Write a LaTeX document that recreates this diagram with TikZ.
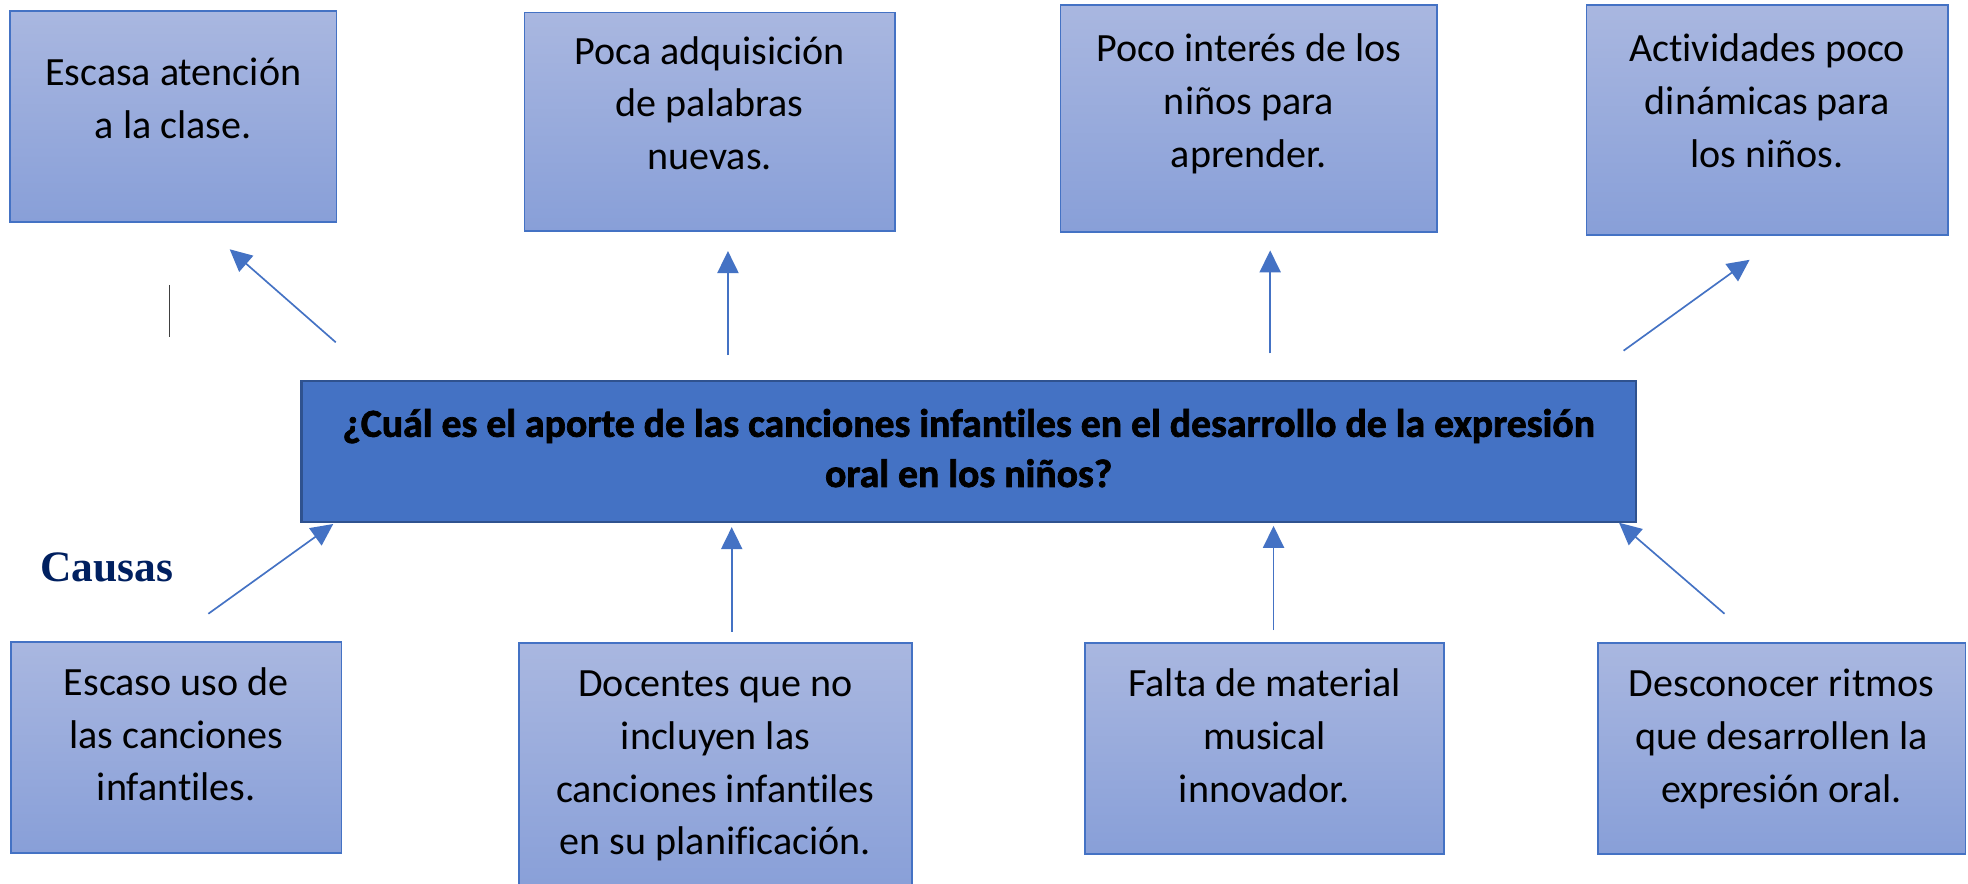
\documentclass[tikz,border=0pt]{standalone}
\usepackage{fontspec}
\setmainfont{Carlito}[Ligatures={NoCommon}]
\newfontfamily\titlefont{Carlito}[Ligatures={NoCommon}, BoldFeatures={FakeBold=1.8}]
\newfontfamily\causasfont{Liberation Serif}
\usetikzlibrary{arrows.meta}
\definecolor{accent}{HTML}{4472C4}
\definecolor{accentdark}{HTML}{2F528F}
\definecolor{boxtop}{HTML}{A9B7E0}
\definecolor{boxbot}{HTML}{889FD8}
\definecolor{navy}{HTML}{002060}
\definecolor{cursorgray}{HTML}{404040}
\newcommand\mylines[1]{\begin{tabular}[t]{@{}c@{}}#1\end{tabular}}
\begin{document}
\begin{tikzpicture}[x=0.025cm, y=-0.025cm,
  cbox/.style={draw=accent, line width=0.9pt, top color=boxtop, bottom color=boxbot, inner sep=0pt, outer sep=0pt},
  mainbox/.style={draw=accentdark, line width=1.4pt, fill=accent, inner sep=0pt, outer sep=0pt},
  btext/.style={anchor=base, inner sep=0pt, font=\fontsize{22.7}{29.9}\selectfont},
  ttext/.style={anchor=base, inner sep=0pt, font=\titlefont\bfseries\fontsize{22.5}{28.45}\selectfont},
  conn/.style={draw=accent, line width=0.95pt, -{Triangle[length=12.5pt, width=12pt]}}
]
\clip (0,0) rectangle (1568,704);
\fill[white] (0,0) rectangle (1568,704);

% effect boxes (top)
\node[cbox, minimum width=6.5cm,   minimum height=4.2cm]   (b1) at (138,93) {};
\node[cbox, minimum width=7.375cm, minimum height=4.35cm]  (b2) at (565.5,97) {};
\node[cbox, minimum width=7.5cm,   minimum height=4.525cm] (b3) at (995,94.5) {};
\node[cbox, minimum width=7.2cm,   minimum height=4.575cm] (b4) at (1408,95.5) {};

\node[btext] (t1) at (138,68.5)  {\mylines{Escasa atención\\a la clase.}};
\node[btext] (t2) at (565.5,51)  {\mylines{Poca adquisición\\de palabras\\nuevas.}};
\node[btext] (t3) at (995,49)    {\mylines{Poco interés de los\\niños para\\aprender.}};
\node[btext] (t4) at (1408,49)   {\mylines{Actividades poco\\dinámicas para\\los niños.}};

% central problem
\node[mainbox, minimum width=26.575cm, minimum height=2.8125cm] (m) at (772,359.75) {};
\node[ttext] (mt) at (771.75,348) {\mylines{¿Cuál es el aporte de las canciones infantiles en el desarrollo de la expresión\\oral en los niños?}};

% cause boxes (bottom)
\node[cbox, minimum width=6.575cm, minimum height=4.2cm]    (b5) at (140.5,595.5) {};
\node[cbox, minimum width=7.825cm, minimum height=4.9875cm] (b6) at (570,612.25) {};
\node[cbox, minimum width=7.15cm,  minimum height=4.2cm]    (b7) at (1007.5,596.5) {};
\node[cbox, minimum width=7.325cm, minimum height=4.2cm]    (b8) at (1419.5,596.5) {};

\node[btext] (t5) at (140.5,554) {\mylines{Escaso uso de\\las canciones\\infantiles.}};
\node[btext] (t6) at (570,555)   {\mylines{Docentes que no\\incluyen las\\canciones infantiles\\en su planificación.}};
\node[btext] (t7) at (1007.5,555){\mylines{Falta de material\\musical\\innovador.}};
\node[btext] (t8) at (1419.5,555){\mylines{Desconocer ritmos\\que desarrollen la\\expresión oral.}};

% label
\node[anchor=base west, inner sep=0pt, text=navy, font=\causasfont\bfseries\fontsize{24.6}{29}\selectfont] (causas) at (32,463) {Causas};

% cursor mark
\coordinate (cu1) at (135,227);
\coordinate (cu2) at (135,268.5);
\draw[cursorgray, line width=0.6pt] (cu1) -- (cu2);

% arrow end points
\coordinate (a1s) at (267.5,272.7);  \coordinate (a1e) at (183,198.6);
\coordinate (a2s) at (580,283);      \coordinate (a2e) at (580,200);
\coordinate (a3s) at (1012,281.5);   \coordinate (a3e) at (1012,199.5);
\coordinate (a4s) at (1293.6,279.4); \coordinate (a4e) at (1394,207);
\coordinate (a5s) at (166,489);      \coordinate (a5e) at (265.5,417.5);
\coordinate (a6s) at (583,503.5);    \coordinate (a6e) at (583,420);
\coordinate (a7s) at (1014.7,502);   \coordinate (a7e) at (1014.7,419);
\coordinate (a8s) at (1374,489);     \coordinate (a8e) at (1290,416.5);

\draw[conn] (a1s) -- (a1e);
\draw[conn] (a2s) -- (a2e);
\draw[conn] (a3s) -- (a3e);
\draw[conn] (a4s) -- (a4e);
\draw[conn] (a5s) -- (a5e);
\draw[conn] (a6s) -- (a6e);
\draw[conn] (a7s) -- (a7e);
\draw[conn] (a8s) -- (a8e);
\end{tikzpicture}
\end{document}
